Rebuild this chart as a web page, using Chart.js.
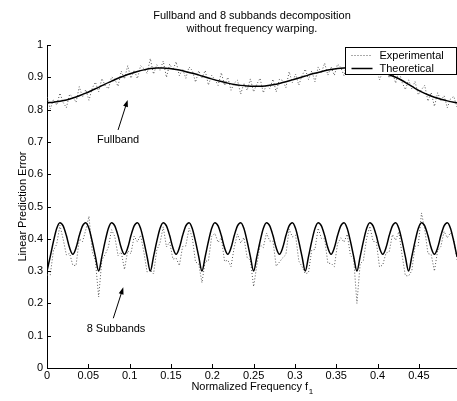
<!DOCTYPE html>
<html>
<head>
<meta charset="utf-8">
<script src="https://cdn.jsdelivr.net/npm/chart.js@4.4.0/dist/chart.umd.min.js"></script>
<style>
  html, body { margin: 0; padding: 0; background: #fff; }
  #wrap { width: 457px; height: 401px; }
</style>
</head>
<body>
<div id="wrap"><canvas id="myChart" width="457" height="401"></canvas></div>
<script>
const FONT = 'Liberation Sans, Arial, Helvetica, sans-serif';

// frequency spacing of the samples (normalized frequency)
const THEORY_FULL_STEP = 1 / 128;
const SAMPLE_STEP = 1 / 256;
const X_MAX = 127 / 256;

const xTickValues = [0, 0.05, 0.1, 0.15, 0.2, 0.25, 0.3, 0.35, 0.4, 0.45];
const yTickValues = [0, 0.1, 0.2, 0.3, 0.4, 0.5, 0.6, 0.7, 0.8, 0.9, 1];

// fullband, theoretical (every 1/128)
const fullbandTheoretical = [
  0.822, 0.823, 0.826, 0.830, 0.836, 0.843, 0.851, 0.860, 0.869, 0.879, 0.888, 0.897, 0.905, 0.912, 0.918, 0.923,
  0.927, 0.929, 0.929, 0.927, 0.924, 0.920, 0.915, 0.910, 0.904, 0.898, 0.892, 0.887, 0.882, 0.878, 0.875, 0.873,
  0.872, 0.872, 0.874, 0.877, 0.881, 0.886, 0.892, 0.898, 0.904, 0.910, 0.915, 0.920, 0.924, 0.927, 0.929, 0.930,
  0.930, 0.928, 0.925, 0.920, 0.914, 0.908, 0.900, 0.890, 0.878, 0.866, 0.855, 0.846, 0.838, 0.832, 0.827, 0.823,
  0.820
];

// fullband, experimental (every 1/256)
const fullbandExperimental = [
  0.839, 0.802, 0.831, 0.814, 0.851, 0.822, 0.806, 0.847, 0.839, 0.823, 0.871, 0.839, 0.862, 0.829, 0.866, 0.885,
  0.855, 0.896, 0.875, 0.864, 0.901, 0.894, 0.872, 0.919, 0.895, 0.936, 0.897, 0.922, 0.896, 0.936, 0.927, 0.912,
  0.958, 0.910, 0.939, 0.922, 0.950, 0.900, 0.941, 0.923, 0.948, 0.905, 0.926, 0.897, 0.932, 0.921, 0.885, 0.920,
  0.898, 0.921, 0.876, 0.906, 0.893, 0.875, 0.914, 0.875, 0.900, 0.860, 0.882, 0.891, 0.848, 0.882, 0.860, 0.895,
  0.855, 0.879, 0.897, 0.852, 0.877, 0.865, 0.894, 0.855, 0.894, 0.890, 0.868, 0.917, 0.884, 0.910, 0.876, 0.905,
  0.925, 0.893, 0.920, 0.886, 0.932, 0.914, 0.944, 0.907, 0.932, 0.906, 0.941, 0.931, 0.905, 0.948, 0.923, 0.957,
  0.913, 0.940, 0.907, 0.933, 0.947, 0.910, 0.935, 0.892, 0.918, 0.931, 0.898, 0.917, 0.882, 0.920, 0.884, 0.862,
  0.892, 0.864, 0.887, 0.846, 0.862, 0.875, 0.826, 0.853, 0.810, 0.852, 0.828, 0.843, 0.806, 0.833, 0.841, 0.808
];

// 8 subbands, theoretical (every 1/256)
const subbandTheoretical = [
  0.300, 0.345, 0.392, 0.432, 0.450, 0.440, 0.410, 0.372, 0.352, 0.372, 0.410, 0.440, 0.450, 0.432, 0.392, 0.345,
  0.300, 0.345, 0.392, 0.432, 0.450, 0.440, 0.410, 0.372, 0.352, 0.372, 0.410, 0.440, 0.450, 0.432, 0.392, 0.345,
  0.300, 0.345, 0.392, 0.432, 0.450, 0.440, 0.410, 0.372, 0.352, 0.372, 0.410, 0.440, 0.450, 0.432, 0.392, 0.345,
  0.300, 0.345, 0.392, 0.432, 0.450, 0.440, 0.410, 0.372, 0.352, 0.372, 0.410, 0.440, 0.450, 0.432, 0.392, 0.345,
  0.300, 0.345, 0.392, 0.432, 0.450, 0.440, 0.410, 0.372, 0.352, 0.372, 0.410, 0.440, 0.450, 0.432, 0.392, 0.345,
  0.300, 0.345, 0.392, 0.432, 0.450, 0.440, 0.410, 0.372, 0.352, 0.372, 0.410, 0.440, 0.450, 0.432, 0.392, 0.345,
  0.300, 0.345, 0.392, 0.432, 0.450, 0.440, 0.410, 0.372, 0.352, 0.372, 0.410, 0.440, 0.450, 0.432, 0.392, 0.345,
  0.300, 0.345, 0.392, 0.432, 0.450, 0.440, 0.410, 0.372, 0.352, 0.372, 0.410, 0.440, 0.450, 0.432, 0.392, 0.345,
  0.300
];

// 8 subbands, experimental (every 1/256)
const subbandExperimental = [
  0.288, 0.288, 0.364, 0.383, 0.442, 0.399, 0.350, 0.355, 0.318, 0.317, 0.400, 0.391, 0.427, 0.470, 0.361, 0.331,
  0.220, 0.334, 0.351, 0.374, 0.428, 0.407, 0.348, 0.359, 0.305, 0.363, 0.354, 0.408, 0.391, 0.411, 0.359, 0.297,
  0.303, 0.291, 0.365, 0.387, 0.437, 0.375, 0.390, 0.337, 0.340, 0.317, 0.376, 0.378, 0.433, 0.404, 0.328, 0.323,
  0.264, 0.331, 0.331, 0.407, 0.417, 0.389, 0.403, 0.330, 0.334, 0.314, 0.374, 0.415, 0.387, 0.404, 0.342, 0.334,
  0.252, 0.318, 0.382, 0.373, 0.418, 0.393, 0.393, 0.315, 0.328, 0.341, 0.351, 0.430, 0.406, 0.411, 0.331, 0.314,
  0.292, 0.295, 0.365, 0.367, 0.433, 0.401, 0.400, 0.324, 0.324, 0.314, 0.385, 0.403, 0.390, 0.414, 0.348, 0.338,
  0.200, 0.322, 0.333, 0.401, 0.439, 0.392, 0.391, 0.313, 0.319, 0.356, 0.360, 0.413, 0.396, 0.422, 0.349, 0.286,
  0.285, 0.301, 0.377, 0.379, 0.480, 0.430, 0.354, 0.352, 0.300, 0.363, 0.376, 0.423, 0.403, 0.419, 0.399, 0.335
];

// text labels with arrows, placed in data units
const annotations = [
  { text: 'Fullband', at: [0.086, 0.706], from: [0.086, 0.737], to: [0.0976, 0.830] },
  { text: '8 Subbands', at: [0.0835, 0.121], from: [0.0802, 0.154], to: [0.0923, 0.250] }
];

const toPoints = (values, step) => values.map((v, i) => ({ x: i * step, y: v }));
const fmt = (v) => String(parseFloat(v.toFixed(2)));

const EXP_STYLE = { color: '#555', width: 1, dash: [1, 2] };
const THEO_STYLE = { color: '#000', width: 1.5 };

const decorPlugin = {
  id: 'decor',
  afterDraw(chart) {
    const { ctx, chartArea, scales } = chart;
    const xs = scales.x, ys = scales.y;
    ctx.save();

    // inward tick marks
    ctx.strokeStyle = '#000';
    ctx.lineWidth = 1;
    ctx.beginPath();
    xs.ticks.forEach(t => {
      const px = Math.round(xs.getPixelForValue(t.value)) + 0.5;
      ctx.moveTo(px, chartArea.bottom);
      ctx.lineTo(px, chartArea.bottom - 4);
    });
    ys.ticks.forEach(t => {
      const py = Math.round(ys.getPixelForValue(t.value)) + 0.5;
      ctx.moveTo(chartArea.left, py);
      ctx.lineTo(chartArea.left + 4, py);
    });
    ctx.stroke();

    // annotations
    ctx.fillStyle = '#000';
    ctx.font = '11px ' + FONT;
    ctx.textAlign = 'center';
    ctx.textBaseline = 'middle';
    annotations.forEach(a => {
      ctx.fillText(a.text, xs.getPixelForValue(a.at[0]), ys.getPixelForValue(a.at[1]));
      const x1 = xs.getPixelForValue(a.from[0]), y1 = ys.getPixelForValue(a.from[1]);
      const x2 = xs.getPixelForValue(a.to[0]), y2 = ys.getPixelForValue(a.to[1]);
      const ang = Math.atan2(y2 - y1, x2 - x1);
      ctx.beginPath();
      ctx.moveTo(x1, y1);
      ctx.lineTo(x2 - 5 * Math.cos(ang), y2 - 5 * Math.sin(ang));
      ctx.stroke();
      ctx.beginPath();
      ctx.moveTo(x2, y2);
      ctx.lineTo(x2 - 7 * Math.cos(ang) + 2.5 * Math.sin(ang), y2 - 7 * Math.sin(ang) - 2.5 * Math.cos(ang));
      ctx.lineTo(x2 - 7 * Math.cos(ang) - 2.5 * Math.sin(ang), y2 - 7 * Math.sin(ang) + 2.5 * Math.cos(ang));
      ctx.closePath();
      ctx.fill();
    });

    // x axis title with subscript
    const main = 'Normalized Frequency f';
    const sub = '1';
    ctx.font = '11px ' + FONT;
    const wMain = ctx.measureText(main).width;
    ctx.font = '8px ' + FONT;
    const wSub = ctx.measureText(sub).width;
    const cx = (chartArea.left + chartArea.right) / 2;
    const startX = cx - (wMain + wSub) / 2;
    ctx.textAlign = 'left';
    ctx.textBaseline = 'alphabetic';
    ctx.font = '11px ' + FONT;
    ctx.fillText(main, startX, 390);
    ctx.font = '8px ' + FONT;
    ctx.fillText(sub, startX + wMain + 0.5, 394);

    // legend box
    const bw = 111, bh = 27;
    const bx = Math.round(chartArea.right - bw) - 0.5;
    const by = Math.round(chartArea.top + 2) + 0.5;
    ctx.fillStyle = '#fff';
    ctx.fillRect(bx, by, bw, bh);
    ctx.strokeStyle = '#000';
    ctx.lineWidth = 1;
    ctx.strokeRect(bx, by, bw, bh);
    const rows = [
      { label: 'Experimental', style: EXP_STYLE, y: by + 8 },
      { label: 'Theoretical', style: THEO_STYLE, y: by + 21 }
    ];
    rows.forEach(r => {
      ctx.strokeStyle = r.style.color;
      ctx.lineWidth = r.style.width;
      ctx.setLineDash(r.style.dash || []);
      ctx.beginPath();
      ctx.moveTo(bx + 6, r.y);
      ctx.lineTo(bx + 27, r.y);
      ctx.stroke();
      ctx.setLineDash([]);
      ctx.fillStyle = '#000';
      ctx.font = '11px ' + FONT;
      ctx.textAlign = 'left';
      ctx.textBaseline = 'middle';
      ctx.fillText(r.label, bx + 34, r.y);
    });

    ctx.restore();
  }
};

const ctx = document.getElementById('myChart').getContext('2d');

const chart = new Chart(ctx, {
  type: 'line',
  data: {
    datasets: [
      {
        label: 'Theoretical',
        data: toPoints(fullbandTheoretical, THEORY_FULL_STEP),
        borderColor: THEO_STYLE.color,
        borderWidth: THEO_STYLE.width,
        cubicInterpolationMode: 'monotone',
        pointRadius: 0,
        order: 0
      },
      {
        label: 'Theoretical subbands',
        data: toPoints(subbandTheoretical, SAMPLE_STEP),
        borderColor: THEO_STYLE.color,
        borderWidth: THEO_STYLE.width,
        cubicInterpolationMode: 'monotone',
        pointRadius: 0,
        order: 0
      },
      {
        label: 'Experimental',
        data: toPoints(fullbandExperimental, SAMPLE_STEP),
        borderColor: EXP_STYLE.color,
        borderWidth: EXP_STYLE.width,
        borderDash: EXP_STYLE.dash,
        tension: 0,
        pointRadius: 0,
        order: 1
      },
      {
        label: 'Experimental subbands',
        data: toPoints(subbandExperimental, SAMPLE_STEP),
        borderColor: EXP_STYLE.color,
        borderWidth: EXP_STYLE.width,
        borderDash: EXP_STYLE.dash,
        tension: 0,
        pointRadius: 0,
        order: 1
      }
    ]
  },
  options: {
    responsive: false,
    animation: false,
    devicePixelRatio: 1,
    layout: { padding: 0 },
    plugins: {
      legend: { display: false },
      tooltip: { enabled: false },
      title: {
        display: true,
        fullSize: false,
        text: ['Fullband and 8 subbands decomposition', 'without frequency warping.'],
        color: '#000',
        font: { family: FONT, size: 11, weight: 'normal', lineHeight: 1.2 },
        padding: { top: 9, bottom: 9.6 }
      }
    },
    scales: {
      x: {
        type: 'linear',
        min: 0,
        max: X_MAX,
        grid: { display: false, drawTicks: false },
        border: { display: true, color: '#000', width: 1 },
        afterBuildTicks: (scale) => { scale.ticks = xTickValues.map(v => ({ value: v })); },
        ticks: {
          color: '#000',
          font: { family: FONT, size: 11 },
          padding: 1,
          maxRotation: 0,
          autoSkip: false,
          callback: (v) => fmt(v)
        },
        afterFit: (scale) => { scale.height = 33; }
      },
      y: {
        type: 'linear',
        min: 0,
        max: 1,
        grid: { display: false, drawTicks: false },
        border: { display: true, color: '#000', width: 1 },
        afterBuildTicks: (scale) => { scale.ticks = yTickValues.map(v => ({ value: v })); },
        ticks: {
          color: '#000',
          font: { family: FONT, size: 11 },
          padding: 4,
          autoSkip: false,
          callback: (v) => fmt(v)
        },
        title: {
          display: true,
          text: 'Linear Prediction Error',
          color: '#000',
          font: { family: FONT, size: 11, lineHeight: 1.2 },
          padding: { top: 16, bottom: 0 }
        },
        afterFit: (scale) => { scale.width = 47; }
      }
    }
  },
  plugins: [decorPlugin]
});
</script>
</body>
</html>
